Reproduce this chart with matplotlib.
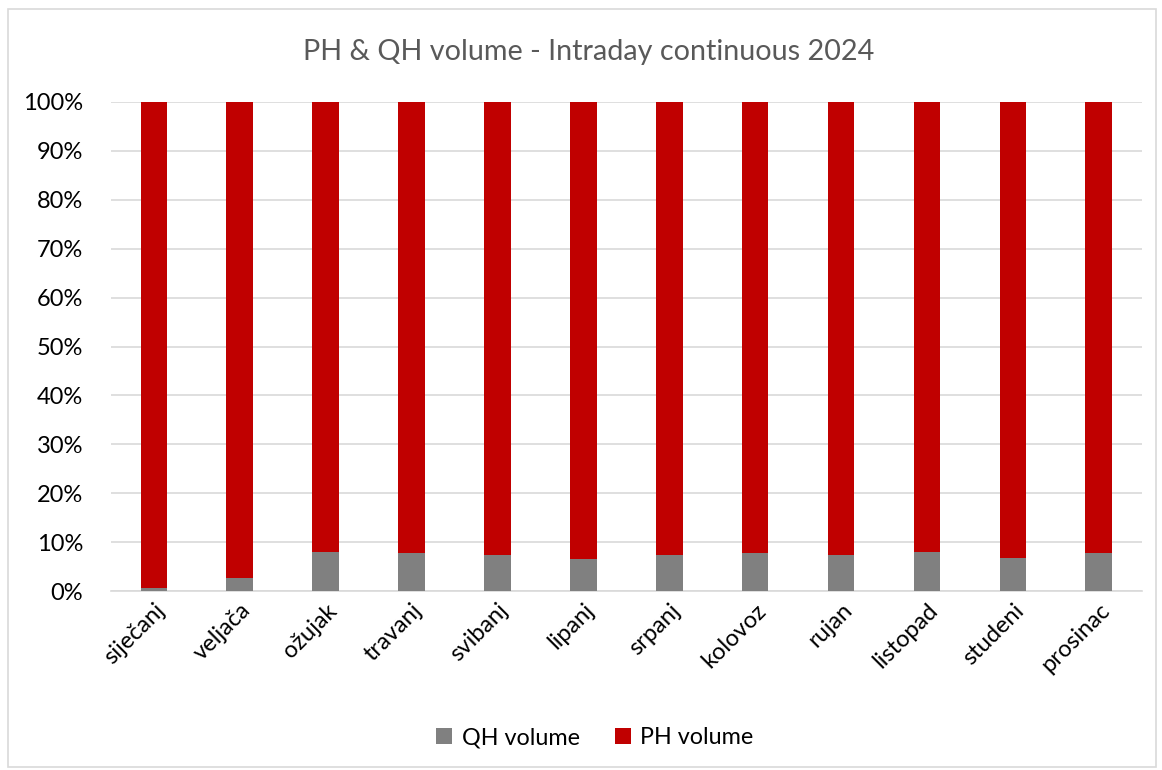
import numpy as np
import matplotlib.pyplot as plt
from matplotlib.patches import Rectangle
from matplotlib.ticker import PercentFormatter

months = ['siječanj', 'veljača', 'ožujak', 'travanj', 'svibanj', 'lipanj',
          'srpanj', 'kolovoz', 'rujan', 'listopad', 'studeni', 'prosinac']
qh_share = [0.7, 2.7, 8.0, 7.8, 7.5, 6.6, 7.4, 7.9, 7.5, 8.1, 6.9, 7.9]
ph_share = [100 - q for q in qh_share]

plt.rcParams['font.family'] = ['Lato', 'DejaVu Sans']

fig = plt.figure(figsize=(11.62, 7.70), dpi=100)
# okvir oko cijelog grafa
fig.patches.append(Rectangle((0.007, 0.004), 0.988, 0.984, transform=fig.transFigure,
                             fill=False, edgecolor='#d9d9d9', linewidth=1.2))

ax = fig.add_axes([0.0955, 0.232, 0.887, 0.636])
x = np.arange(len(months))
ax.bar(x, qh_share, width=0.31, color='#808080', label='QH volume', zorder=3)
ax.bar(x, ph_share, width=0.31, bottom=qh_share, color='#c00000', label='PH volume', zorder=3)

ax.set_xlim(-0.5, len(months) - 0.5)
ax.set_ylim(0, 100)
ax.set_yticks(np.arange(0, 101, 10))
ax.yaxis.set_major_formatter(PercentFormatter(decimals=0))
ax.grid(axis='y', color='#d9d9d9', linewidth=1.2, zorder=0)
for s in ['top', 'right', 'left']:
    ax.spines[s].set_visible(False)
ax.spines['bottom'].set_color('#d9d9d9')
ax.spines['bottom'].set_linewidth(1.2)
ax.tick_params(axis='both', length=0, labelsize=17, colors='black')
ax.tick_params(axis='y', pad=20)
ax.tick_params(axis='x', pad=6)
ax.set_xticks(x)
ax.set_xticklabels(months, rotation=45, ha='right', rotation_mode='anchor')

fig.text(0.507, 0.933, 'PH & QH volume - Intraday continuous 2024', ha='center', va='center',
         fontsize=20.7, color='#595959')
fig.legend(loc='center', bbox_to_anchor=(0.512, 0.042), ncol=2, frameon=False, fontsize=16.8,
           handlelength=0.7, handleheight=0.7, handletextpad=0.4, columnspacing=1.5)

fig.savefig('out.png', dpi=100)
